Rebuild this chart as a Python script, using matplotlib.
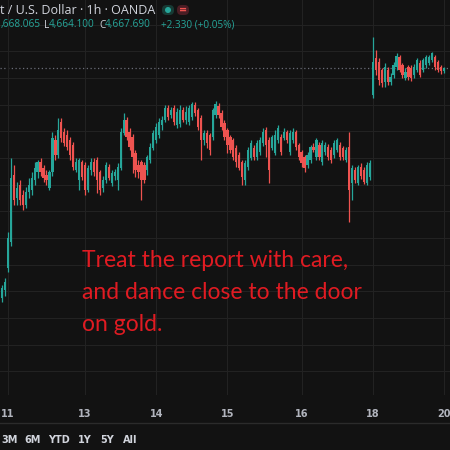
import numpy as np
import matplotlib.pyplot as plt
from matplotlib.patches import FancyBboxPatch, Circle

# hourly candles (XAU/USD, OANDA)
opens = [4495.0, 4501.0, 4517.5, 4537.0, 4587.3, 4570.0, 4579.8, 4572.3, 4564.8, 4574.5,
         4576.0, 4583.5, 4589.5, 4597.0, 4592.5, 4587.3, 4577.5, 4589.5, 4613.5, 4602.3,
         4627.0, 4619.5, 4617.3, 4613.5, 4609.8, 4591.0, 4583.5, 4597.0, 4594.8, 4576.0,
         4591.0, 4597.0, 4598.5, 4589.5, 4577.5, 4583.5, 4593.3, 4581.3, 4586.5, 4583.5,
         4592.5, 4618.8, 4628.5, 4619.5, 4615.8, 4603.8, 4594.8, 4597.0, 4594.8, 4591.0,
         4598.5, 4607.5, 4613.5, 4617.3, 4624.8, 4628.5, 4637.5, 4632.3, 4637.5, 4624.8,
         4625.5, 4636.0, 4628.5, 4627.0, 4630.8, 4639.8, 4636.0, 4630.0, 4613.5, 4618.8,
         4617.3, 4615.8, 4632.3, 4639.0, 4633.8, 4626.3, 4621.0, 4615.8, 4613.5, 4607.5,
         4602.3, 4597.0, 4583.5, 4593.3, 4600.0, 4607.5, 4600.8, 4604.5, 4611.3, 4621.0,
         4613.5, 4607.5, 4603.8, 4613.5, 4615.8, 4615.0, 4619.5, 4604.5, 4613.5, 4619.5,
         4609.8, 4604.5, 4600.8, 4594.8, 4598.5, 4608.3, 4600.8, 4609.8, 4597.0, 4604.5,
         4608.3, 4606.0, 4602.3, 4606.0, 4609.8, 4607.5, 4598.5, 4608.3, 4581.3, 4591.0,
         4581.3, 4593.3, 4591.0, 4581.3, 4585.8, 4647.3, 4675.0, 4672.0, 4666.0, 4657.0,
         4666.0, 4657.0, 4662.3, 4668.3, 4675.8, 4669.8, 4660.0, 4668.3, 4667.5, 4662.3,
         4666.0, 4671.3, 4666.0, 4669.8, 4671.3, 4673.5, 4675.8, 4672.0, 4668.3, 4665.4]
highs = [4504.8, 4510.0, 4544.5, 4600.0, 4594.8, 4582.0, 4583.5, 4576.0, 4578.3, 4585.0,
         4589.5, 4597.0, 4598.5, 4600.0, 4594.8, 4591.0, 4591.0, 4619.5, 4617.3, 4630.0,
         4630.0, 4622.5, 4621.0, 4615.8, 4612.0, 4600.0, 4600.0, 4598.5, 4597.0, 4594.8,
         4600.0, 4600.0, 4600.8, 4591.0, 4586.5, 4597.0, 4595.5, 4591.0, 4591.8, 4596.3,
         4622.5, 4633.8, 4630.8, 4622.5, 4618.0, 4606.0, 4598.5, 4598.5, 4597.0, 4602.3,
         4611.3, 4621.0, 4626.3, 4630.0, 4631.5, 4639.8, 4639.8, 4638.3, 4639.8, 4637.5,
         4639.8, 4638.3, 4639.0, 4639.8, 4642.0, 4642.0, 4637.5, 4632.3, 4621.0, 4621.0,
         4618.8, 4637.5, 4642.8, 4641.3, 4636.0, 4628.5, 4622.5, 4617.3, 4615.0, 4609.8,
         4604.5, 4598.5, 4598.5, 4608.3, 4613.5, 4609.8, 4613.5, 4615.8, 4622.5, 4623.3,
         4615.8, 4617.3, 4621.0, 4624.8, 4618.0, 4622.5, 4621.0, 4621.0, 4622.5, 4621.0,
         4611.3, 4606.0, 4602.3, 4604.5, 4609.8, 4611.3, 4615.0, 4612.0, 4613.5, 4612.0,
         4610.5, 4608.3, 4613.5, 4615.0, 4612.0, 4609.0, 4608.3, 4619.5, 4594.8, 4593.3,
         4594.8, 4596.3, 4593.3, 4597.0, 4598.5, 4690.8, 4681.0, 4675.0, 4667.5, 4671.3,
         4668.3, 4663.8, 4672.0, 4678.8, 4677.3, 4671.3, 4667.5, 4669.8, 4669.8, 4670.5,
         4675.0, 4673.5, 4675.0, 4677.3, 4677.3, 4679.5, 4677.3, 4673.5, 4669.8, 4668.1]
lows = [4492.0, 4496.5, 4514.5, 4534.0, 4564.8, 4564.8, 4564.8, 4561.0, 4562.5, 4570.0,
        4572.3, 4579.8, 4585.0, 4586.5, 4582.0, 4579.8, 4576.0, 4586.5, 4598.5, 4600.0,
        4612.0, 4609.0, 4606.0, 4598.5, 4591.0, 4589.5, 4576.0, 4583.5, 4572.3, 4574.5,
        4587.3, 4586.5, 4573.8, 4572.3, 4574.5, 4581.3, 4583.5, 4579.0, 4583.5, 4576.0,
        4591.0, 4617.3, 4613.5, 4606.0, 4588.8, 4585.8, 4585.0, 4568.5, 4581.3, 4587.3,
        4596.3, 4606.0, 4611.3, 4615.0, 4621.0, 4627.0, 4628.5, 4630.0, 4624.8, 4622.5,
        4623.3, 4627.0, 4625.5, 4624.8, 4628.5, 4631.5, 4621.0, 4598.5, 4609.8, 4607.5,
        4602.3, 4613.5, 4630.0, 4630.0, 4621.0, 4613.5, 4603.8, 4603.8, 4598.5, 4593.3,
        4591.0, 4579.8, 4579.8, 4591.0, 4598.5, 4598.5, 4598.5, 4602.3, 4609.0, 4600.8,
        4581.3, 4606.0, 4602.3, 4611.3, 4602.3, 4613.5, 4611.3, 4602.3, 4611.3, 4606.0,
        4598.5, 4593.3, 4589.5, 4592.5, 4596.3, 4604.5, 4598.5, 4598.5, 4594.8, 4602.3,
        4598.5, 4596.3, 4600.0, 4604.5, 4598.5, 4598.5, 4597.0, 4552.0, 4568.5, 4581.3,
        4579.8, 4584.0, 4580.5, 4579.8, 4583.5, 4645.0, 4662.3, 4654.8, 4653.3, 4653.3,
        4654.8, 4654.8, 4660.0, 4666.0, 4664.5, 4660.0, 4658.5, 4658.5, 4657.8, 4660.0,
        4664.5, 4660.8, 4664.5, 4667.5, 4669.8, 4672.0, 4666.0, 4664.5, 4663.0, 4664.1]
closes = [4502.5, 4507.0, 4540.0, 4585.0, 4568.5, 4577.5, 4568.5, 4564.8, 4574.5, 4579.8,
          4585.0, 4592.5, 4597.0, 4589.5, 4585.0, 4583.5, 4589.5, 4615.0, 4602.3, 4621.0,
          4615.0, 4611.3, 4608.3, 4602.3, 4593.3, 4597.0, 4598.5, 4585.8, 4576.0, 4592.5,
          4597.0, 4589.5, 4583.5, 4576.0, 4583.5, 4594.8, 4585.0, 4588.8, 4589.5, 4593.3,
          4619.5, 4628.5, 4615.8, 4608.3, 4600.8, 4591.0, 4589.5, 4583.5, 4583.5, 4600.8,
          4608.3, 4618.8, 4623.3, 4627.0, 4628.5, 4637.5, 4630.8, 4636.0, 4627.0, 4634.5,
          4636.0, 4628.5, 4634.5, 4637.5, 4640.5, 4633.8, 4623.3, 4613.5, 4618.8, 4611.3,
          4606.0, 4636.0, 4640.5, 4632.3, 4623.3, 4615.8, 4609.8, 4606.0, 4600.8, 4597.0,
          4592.5, 4585.8, 4596.3, 4606.0, 4611.3, 4600.8, 4611.3, 4613.5, 4619.5, 4609.8,
          4591.0, 4615.8, 4617.3, 4622.5, 4604.5, 4619.5, 4613.5, 4618.8, 4619.5, 4608.3,
          4600.8, 4596.3, 4592.5, 4602.3, 4608.3, 4606.0, 4613.5, 4600.8, 4611.3, 4609.8,
          4600.8, 4598.5, 4611.3, 4613.5, 4600.8, 4600.8, 4606.0, 4576.0, 4592.5, 4583.5,
          4593.3, 4586.5, 4582.0, 4594.8, 4596.3, 4672.0, 4666.0, 4658.5, 4656.3, 4668.3,
          4657.0, 4660.8, 4669.8, 4676.5, 4666.0, 4662.3, 4664.5, 4660.8, 4660.0, 4668.3,
          4673.5, 4662.3, 4673.5, 4675.8, 4675.8, 4678.8, 4668.3, 4666.0, 4665.4, 4667.69]

day_labels = ['11', '13', '14', '15', '16', '18', '20']
day_start = [2, 28, 52, 76, 101, 125, 149]
range_buttons = ['3M', '6M', 'YTD', '1Y', '5Y', 'All']
note = ['Treat the report with care,', 'and dance close to the door', 'on gold.']

bg = '#121212'
grid_c = '#222222'
up_c = '#26a69a'
down_c = '#ef5350'
txt_c = '#d1d4dc'

W = H = 450


def px(x, y):
    return x / W, 1 - y / H


fig = plt.figure(figsize=(4.5, 4.5), dpi=100, facecolor=bg)
ax = fig.add_axes([0, 55 / H, 1, 395 / H])
ax.set_facecolor(bg)

o = np.array(opens)
c = np.array(closes)
x = np.arange(len(o))
cols = np.where(c >= o, up_c, down_c)
ax.vlines(x, lows, highs, colors=cols, lw=0.9, zorder=2)
body = np.maximum(np.abs(c - o), 0.4)
ax.bar(x, body, bottom=np.minimum(o, c), width=0.75, color=cols, lw=0, zorder=3)

ax.axhline(closes[-1], color='#6a6d78', lw=0.9, ls=(0, (1, 2)), zorder=1)

step = 442 / (len(o) - 1)
ax.set_xlim(-2 / step, 448 / step)
ax.set_ylim(4422.25, 4718.5)
ax.set_yticks(np.arange(4440, 4701, 20))
ax.set_xticks(day_start, day_labels)
ax.grid(color=grid_c, lw=0.8, zorder=0)
ax.tick_params(axis='y', left=False, labelleft=False)
ax.tick_params(axis='x', length=0, pad=10, colors='#b2b5be', labelsize=7)
for lab in ax.get_xticklabels():
    lab.set_fontweight('semibold')
for s in ax.spines.values():
    s.set_visible(False)

# header
fig.text(*px(0.5, 10), 't / U.S. Dollar · 1h · OANDA', color=txt_c,
         fontsize=9, family='Open Sans', ha='left', va='center')
fig.patches.append(FancyBboxPatch(px(162, 15), 12 / W, 10 / H, boxstyle='round,pad=0,rounding_size=0.01',
                                  transform=fig.transFigure, fc='#173a34', ec='none'))
fig.patches.append(Circle(px(168, 10), 3 / W, transform=fig.transFigure, fc=up_c, ec='none'))
fig.patches.append(FancyBboxPatch(px(177, 15), 12 / W, 10 / H, boxstyle='round,pad=0,rounding_size=0.01',
                                  transform=fig.transFigure, fc='#4a1d24', ec='none'))
fig.text(*px(183, 10), '=', color=down_c, fontsize=7, ha='center', va='center', fontweight='bold')

hdr = dict(fontsize=7.2, family='Open Sans', va='center')
fig.text(*px(0.5, 25), ',668.065', color=up_c, ha='left', **hdr)
fig.text(*px(44, 25), 'L', color=txt_c, ha='left', **hdr)
fig.text(*px(49, 25), '4,664.100', color=up_c, ha='left', **hdr)
fig.text(*px(99, 25), 'C', color=txt_c, ha='left', **hdr)
fig.text(*px(105, 25), '4,667.690', color=up_c, ha='left', **hdr)
fig.text(*px(161, 25), '+2.330 (+0.05%)', color=up_c, ha='left', **hdr)

# note
for i, line in enumerate(note):
    fig.text(*px(82, 267 + 32 * i), line, color='#e01b22', fontsize=16.5,
             family='Lato', ha='left', va='baseline')

# bottom toolbar
fig.add_artist(plt.Line2D([0, 1], [1 - 423 / H] * 2, transform=fig.transFigure,
                          color='#2b2b2b', lw=1))
bx = [1, 24, 48, 78, 100, 123]
for xb, lab in zip(bx, range_buttons):
    fig.text(*px(xb, 440), lab, color=txt_c, fontsize=7, fontweight='semibold',
             ha='left', va='center')

fig.savefig('out.png', dpi=100, facecolor=bg)
